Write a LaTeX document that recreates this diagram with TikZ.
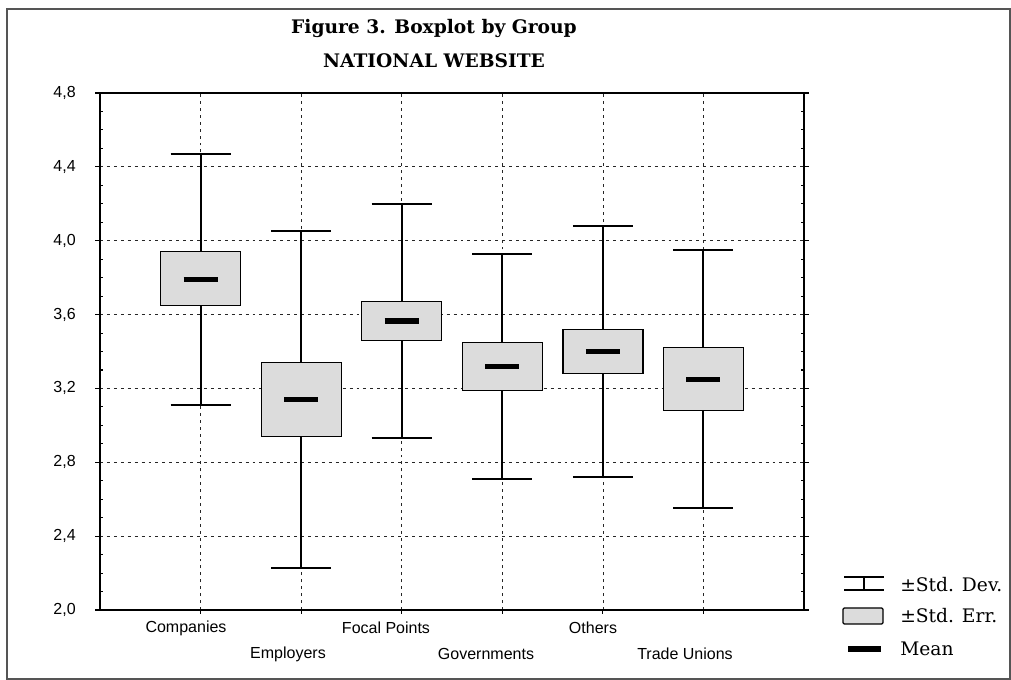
\documentclass[tikz,border=0pt]{standalone}
\usepackage{fontspec}
\setmainfont{DejaVu Serif}
\newfontfamily\axisfont{Liberation Sans}
\definecolor{boxgray}{HTML}{DCDCDC}
\definecolor{framegray}{HTML}{555555}
\newcommand\mybxp[7]{%
  % #1 name, #2 x, #3 lo, #4 box lo, #5 mean, #6 box hi, #7 hi
  \draw[whisk] (#2,#3) -- (#2,#7);
  \draw[whisk] ({#2-30},#3) -- ({#2+30},#3);
  \draw[whisk] ({#2-30},#7) -- ({#2+30},#7);
  \draw[boxst] ({#2-40},#4) rectangle ({#2+40},#6);
  \draw[meanbar] ({#2-17},#5) -- ({#2+17},#5);
}
\begin{document}
\begin{tikzpicture}[x=0.75pt,y=-0.75pt,
  grid/.style={black!85, line width=0.6pt, dash pattern=on 2.2pt off 3pt},
  axisline/.style={black, line width=0.9pt},
  whisk/.style={black, line width=1.5pt},
  boxst/.style={draw=black, line width=0.9pt, fill=boxgray},
  meanbar/.style={black, line width=4pt},
  ticklbl/.style={font=\axisfont\fontsize{12}{14}\selectfont, inner sep=0pt},
  catlbl/.style={font=\axisfont\fontsize{12}{14}\selectfont, inner sep=0pt},
  titlelbl/.style={font=\bfseries\fontsize{14}{16}\selectfont, inner sep=0pt},
  leglbl/.style={font=\fontsize{14}{16}\selectfont, inner sep=0pt, anchor=west}]
\useasboundingbox (0,0) rectangle (1011,680);
\draw[framegray, line width=1.4pt] (7,9) rectangle (1010,679);
% titles
\node[titlelbl] (title1) at (434,28) {Figure 3. Boxplot by Group};
\node[titlelbl] (title2) at (434,61) {NATIONAL WEBSITE};
% plot in data coordinates
\begin{scope}[shift={(0,979.28)}, yscale=-184.64]
  % grid
  \foreach \v in {2.4,2.8,3.2,3.6,4.0,4.4}
    \draw[grid] (100,\v) -- (804,\v);
  \foreach \x in {200.6,301.1,401.7,502.3,602.9,703.4}
    \draw[grid] (\x,2.0) -- (\x,4.8);
  % minor ticks
  \foreach \v in {2.1,2.2,2.3,2.5,2.6,2.7,2.9,3.0,3.1,3.3,3.4,3.5,3.7,3.8,3.9,4.1,4.2,4.3,4.5,4.6,4.7}{
    \draw[black, line width=0.8pt] (100,\v) -- (103,\v);
    \draw[black, line width=0.8pt] (804,\v) -- (801,\v);
  }
  % major ticks and labels
  \foreach \v/\t in {2.0/{2,0},2.4/{2,4},2.8/{2,8},3.2/{3,2},3.6/{3,6},4.0/{4,0},4.4/{4,4},4.8/{4,8}}{
    \draw[black, line width=0.8pt] (95,\v) -- (100,\v);
    \draw[black, line width=0.8pt] (804,\v) -- (809,\v);
    \node[ticklbl, anchor=east] at (76,\v) {\t};
  }
  \foreach \x in {200.6,301.1,401.7,502.3,602.9,703.4}
    \draw[black, line width=0.8pt] (\x,2.0) -- (\x,1.98);
  % boxes
  \mybxp{comp}{200.6}{3.11}{3.65}{3.79}{3.94}{4.47}
  \mybxp{empl}{301.1}{2.23}{2.94}{3.14}{3.34}{4.05}
  \mybxp{focal}{401.7}{2.93}{3.46}{3.565}{3.67}{4.20}
  \mybxp{gov}{502.3}{2.71}{3.19}{3.32}{3.45}{3.93}
  \mybxp{oth}{602.9}{2.72}{3.28}{3.40}{3.52}{4.08}
  \mybxp{tu}{703.4}{2.55}{3.08}{3.25}{3.42}{3.95}
  % axes frame
  \draw[axisline] (100,2.0) rectangle (804,4.8);
\end{scope}
% category labels
\node[catlbl] (lcomp) at (186,628) {Companies};
\node[catlbl] (lempl) at (288,654) {Employers};
\node[catlbl] (lfocal) at (386,628) {Focal Points};
\node[catlbl] (lgov) at (486,654) {Governments};
\node[catlbl] (loth) at (593,628) {Others};
\node[catlbl] (ltu) at (685,654) {Trade Unions};
% legend
\draw[black, line width=1.2pt] (864,577) -- (864,590);
\draw[black, line width=1.2pt] (844,577) -- (884,577);
\draw[black, line width=1.2pt] (844,590) -- (884,590);
\draw[boxst, rounded corners=1pt] (843,608) rectangle (883,624);
\draw[meanbar] (848,649) -- (881,649);
\node[leglbl] (leg1) at (900,585) {±Std. Dev.};
\node[leglbl] (leg2) at (900,616) {±Std. Err.};
\node[leglbl] (leg3) at (900,649) {Mean};
\end{tikzpicture}
\end{document}
